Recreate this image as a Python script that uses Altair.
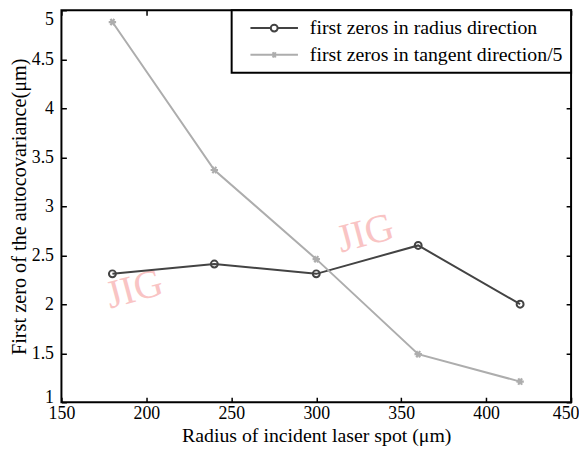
import altair as alt
import pandas as pd

# ---- data ----
radius_x = [180, 240, 300, 360, 420]
radius_y = [2.31, 2.41, 2.31, 2.60, 2.00]
tangent_y = [4.88, 3.37, 2.46, 1.49, 1.21]
series = ["first zeros in radius direction", "first zeros in tangent direction/5"]
x_ticks = [150, 200, 250, 300, 350, 400, 450]
y_ticks = [1, 1.5, 2, 2.5, 3, 3.5, 4, 4.5, 5]
wm_text = ["JIG", "JIG"]
wm_x = [193, 329]
wm_y = [2.15, 2.72]

colors = ["#434343", "#adadad"]
FONT = "Liberation Serif"
W, H = 515, 396
TICK = 5

df = pd.DataFrame({
    "x": radius_x + radius_x,
    "y": radius_y + tangent_y,
    "series": [series[0]] * len(radius_x) + [series[1]] * len(radius_x),
})
wm = pd.DataFrame({"x": wm_x, "y": wm_y, "t": wm_text})

xs = alt.Scale(domain=[150, 450], nice=False, zero=False)
ys = alt.Scale(domain=[1, 5], nice=False, zero=False)
cscale = alt.Scale(domain=series, range=colors)

asterisk = "M-1,0H1M-0.5,-0.866L0.5,0.866M-0.5,0.866L0.5,-0.866"
leg_radius = "M0.2,0H4.3M5.7,0H9.8M4.3,0A0.7,0.7,0,1,1,5.7,0A0.7,0.7,0,1,1,4.3,0"
leg_tangent = "M0.2,0H9.8M4.4,0H5.6M4.7,-0.52L5.3,0.52M4.7,0.52L5.3,-0.52"

y_base_multi = {"condition": [{"test": "datum.value >= 5", "value": "top"},
                              {"test": "datum.value <= 1", "value": "alphabetic"}],
                "value": "middle"}
y_base_single = {"condition": {"test": "datum.value >= 5", "value": "top"}, "value": "middle"}


def build(y_baseline, legend_stroke, last_label):
    extra_x = {}
    if last_label:
        extra_x = dict(
            labelAlign={"condition": {"test": "datum.value >= 450", "value": "right"},
                        "value": "center"},
            labelOffset={"condition": {"test": "datum.value >= 450", "value": 8},
                         "value": 0},
        )
    # inward ticks on all four sides come from dashed grid lines (dash at each end)
    main_x = alt.Axis(orient="bottom", values=x_ticks, ticks=False, domain=False,
                      grid=True, gridColor="black", gridOpacity=1, gridWidth=1.5,
                      gridDash=[TICK, H - 2 * TICK],
                      title="Radius of incident laser spot (μm)", labelFont=FONT, format="d",
                      labelFontSize=18, labelColor="black", labelPadding=3,
                      titleFont=FONT, titleFontSize=20, titleFontWeight="normal",
                      titleColor="black", titlePadding=3, labelFlush=False, **extra_x)
    main_y = alt.Axis(orient="left", values=y_ticks, ticks=False, domain=False,
                      grid=True, gridColor="black", gridOpacity=1, gridWidth=1.5,
                      gridDash=[TICK, W - 2 * TICK],
                      title="First zero of the autocovariance(μm)", labelFont=FONT,
                      format="~g", labelFontSize=18, labelColor="black", labelPadding=8,
                      labelBaseline=y_baseline,
                      titleFont=FONT, titleFontSize=20.5, titleFontWeight="normal",
                      titleColor="black", titlePadding=1.5, labelFlush=False)

    watermark = alt.Chart(wm).mark_text(
        font=FONT, fontSize=40, color="#f9c4c4", angle=345
    ).encode(
        x=alt.X("x:Q", scale=xs, axis=None),
        y=alt.Y("y:Q", scale=ys, axis=None),
        text="t:N",
    )

    lines = alt.Chart(df).mark_line(strokeWidth=2).encode(
        x=alt.X("x:Q", scale=xs, axis=main_x),
        y=alt.Y("y:Q", scale=ys, axis=main_y),
        color=alt.Color("series:N", scale=cscale, legend=None),
    )

    pts_r = alt.Chart(df).transform_filter(alt.datum.series == series[0]).mark_point(
        shape="circle", size=49, filled=False, strokeWidth=2, color=colors[0], opacity=1
    ).encode(
        x=alt.X("x:Q", scale=xs, axis=None),
        y=alt.Y("y:Q", scale=ys, axis=None),
    )

    pts_t = alt.Chart(df).transform_filter(alt.datum.series == series[1]).mark_point(
        shape=asterisk, size=56, filled=False, strokeWidth=2.2, color=colors[1], opacity=1
    ).encode(
        x=alt.X("x:Q", scale=xs, axis=None),
        y=alt.Y("y:Q", scale=ys, axis=None),
    )

    legend_layer = alt.Chart(df).mark_point(
        size=100, filled=False, strokeWidth=2, opacity=0
    ).encode(
        x=alt.X("x:Q", scale=xs, axis=None),
        y=alt.Y("y:Q", scale=ys, axis=None),
        color=alt.Color("series:N", scale=cscale, title=None),
        shape=alt.Shape("series:N",
                        scale=alt.Scale(domain=series, range=[leg_radius, leg_tangent]),
                        title=None),
    )

    base = alt.layer(watermark, lines, pts_r, pts_t, legend_layer).resolve_scale(
        x="independent", y="independent", color="independent", shape="independent"
    ).resolve_axis(
        x="independent", y="independent"
    ).resolve_legend(
        color="independent", shape="independent"
    ).properties(
        width=W, height=H,
        autosize=alt.AutoSizeParams(type="none"),
        padding={"left": 54, "top": 0, "right": 8, "bottom": 45},
    ).configure_view(
        stroke="black", strokeWidth=2
    )

    legend_opts = dict(
        orient="top-right", offset=0, padding=8, fillColor="white", strokeColor="black",
        labelFont=FONT, labelFontSize=20, labelColor="black", labelOffset=51,
        labelLimit=500, symbolSize=100, symbolStrokeWidth=2, symbolOpacity=1, rowPadding=7,
        title=None,
    )
    if legend_stroke:
        legend_opts["strokeWidth"] = 2
    c = base.configure_legend(**legend_opts)
    c.to_dict()
    return c


chart = None
for ll in (True, False):
    for yb in (y_base_multi, y_base_single):
        for ls in (True, False):
            try:
                chart = build(yb, ls, ll)
                break
            except Exception:
                chart = None
        if chart is not None:
            break
    if chart is not None:
        break

chart.save("out.html", embed_options={"renderer": "svg", "actions": False})
